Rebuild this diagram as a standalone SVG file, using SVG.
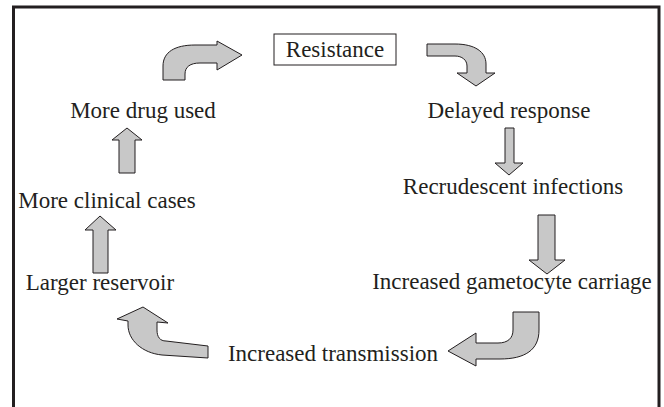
<svg xmlns="http://www.w3.org/2000/svg" width="664" height="407" viewBox="0 0 664 407">
<style>
text{font-family:"Liberation Serif","Times New Roman",serif;font-size:23px;fill:#231f20;text-anchor:middle}
.arr{fill:#c8c8c8;stroke:#231f20;stroke-width:1;stroke-linejoin:miter}
</style>
<rect x="0" y="0" width="664" height="407" fill="#ffffff"/>
<rect x="13.5" y="7" width="645.5" height="420" fill="none" stroke="#231f20" stroke-width="3"/>
<g id="resistance">
<rect x="274" y="34" width="122" height="31" fill="#ffffff" stroke="#231f20" stroke-width="1"/>
<text x="335" y="57">Resistance</text>
</g>
<g id="delayed"><text x="509" y="118">Delayed response</text></g>
<g id="recrudescent"><text x="513" y="194">Recrudescent infections</text></g>
<g id="gametocyte"><text x="512" y="289">Increased gametocyte carriage</text></g>
<g id="transmission"><text x="333" y="361">Increased transmission</text></g>
<g id="reservoir"><text x="100" y="290">Larger reservoir</text></g>
<g id="clinical"><text x="107" y="208">More clinical cases</text></g>
<g id="drug"><text x="143" y="118">More drug used</text></g>
<g id="connectors">
<path class="arr" d="M163 80 L163 66 C163 52 175 45 195 45 L217 45 L217 41 L242 55 L217 70 L217 63 L200 63 C190 63 185 67 185 74 L185 80 Z"/>
<path class="arr" d="M427 44 L455 44 C475 44 486 52 486 64 L486 73 L495 73 L476 86 L457 73 L467 73 L467 66 C467 60 462 56 455 56 L427 56 Z"/>
<path class="arr" d="M505 128 L514 128 L514 163 L523 163 L509 175 L495 163 L505 163 Z"/>
<path class="arr" d="M538 215 L555 215 L555 260 L565 260 L547 274 L529 260 L538 260 Z"/>
<path class="arr" d="M513 312 L539 312 L539 330 C539 350 525 359 500 359 L476 359 L476 366 L448 351 L476 333 L476 343 L498 343 C508 343 513 338 513 330 Z"/>
<path class="arr" d="M208 346 L208 358 L162 355 C142 353 128 340 128 325 L128 321 L117 319 L143 307 L168 323 L157 322 L157 330 C157 337 160 341 166 341 Z"/>
<path class="arr" d="M93 273 L108 273 L108 230 L116 230 L100 216 L85 230 L93 230 Z"/>
<path class="arr" d="M119 173 L135 173 L135 140 L142 140 L127 128 L112 140 L119 140 Z"/>
</g>
</svg>
